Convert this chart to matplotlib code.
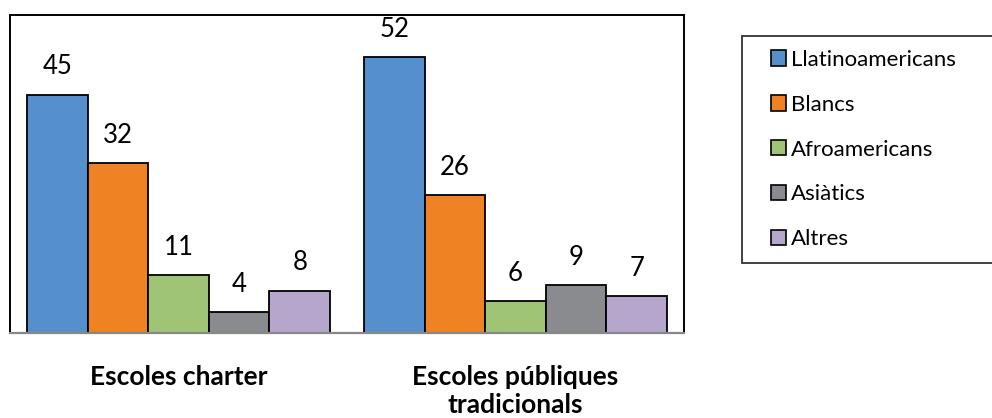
import matplotlib
matplotlib.use("Agg")
import matplotlib.pyplot as plt
from matplotlib.patches import Patch, Rectangle
from matplotlib.legend_handler import HandlerPatch
import numpy as np

categories = ["Escoles charter", "Escoles públiques\ntradicionals"]
series_names = ["Llatinoamericans", "Blancs", "Afroamericans", "Asiàtics", "Altres"]
values = {
    "Llatinoamericans": [45, 52],
    "Blancs": [32, 26],
    "Afroamericans": [11, 6],
    "Asiàtics": [4, 9],
    "Altres": [8, 7],
}
colors = ["#558FCC", "#EF8223", "#9FC475", "#8A8B8F", "#B6A6CC"]

plt.rcParams['font.family'] = ['Lato', 'DejaVu Sans']

W, H = 992, 418
fig = plt.figure(figsize=(W / 100, H / 100), dpi=100)
ax = fig.add_axes([10 / W, (H - 333) / H, 674 / W, 318 / H])

x = np.arange(len(categories))
n = len(series_names)
bw = 0.18
for i, name in enumerate(series_names):
    pos = x + (i - (n - 1) / 2) * bw
    bars = ax.bar(pos, values[name], width=bw, color=colors[i], edgecolor="black",
                  linewidth=1.3, label=name, zorder=2)
    for b, v in zip(bars, values[name]):
        ax.annotate(str(v), (b.get_x() + b.get_width() / 2, v), xytext=(0, 14.5),
                    textcoords="offset points", ha="center", va="baseline",
                    fontsize=18.5, color="black")

ax.set_xlim(-0.5, 1.5)
ax.set_ylim(0, 60)
ax.set_yticks([])
ax.set_xticks([])
for s in ["top", "left", "right"]:
    ax.spines[s].set_color("black")
    ax.spines[s].set_linewidth(1.4)
ax.spines["bottom"].set_color("#888888")
ax.spines["bottom"].set_linewidth(1.6)

for xi, cat in zip(x, categories):
    ax.text(xi, -6.0, cat, ha="center", va="top", fontsize=19, fontweight="bold",
            linespacing=1.22)


class SquareRight(HandlerPatch):
    def create_artists(self, legend, orig_handle, xdescent, ydescent, width, height,
                       fontsize, trans):
        s = height
        r = Rectangle((width - s - xdescent, -ydescent), s, s,
                      facecolor=orig_handle.get_facecolor(), edgecolor="black",
                      linewidth=1.2, transform=trans)
        return [r]


handles = [Patch(facecolor=c, edgecolor="black", linewidth=1.2) for c in colors]
leg = fig.legend(handles, series_names, loc="upper left",
                 bbox_to_anchor=(742 / W, 1 - 36 / H, 400 / W, 0.0), mode="expand",
                 borderaxespad=0, fontsize=16, frameon=True, fancybox=False,
                 handlelength=1.35, handleheight=0.68, handletextpad=0.25,
                 labelspacing=1.12, borderpad=0.62,
                 handler_map={Patch: SquareRight()})
leg.get_frame().set_edgecolor("black")
leg.get_frame().set_linewidth(1.3)

fig.savefig("out.png", dpi=100)
